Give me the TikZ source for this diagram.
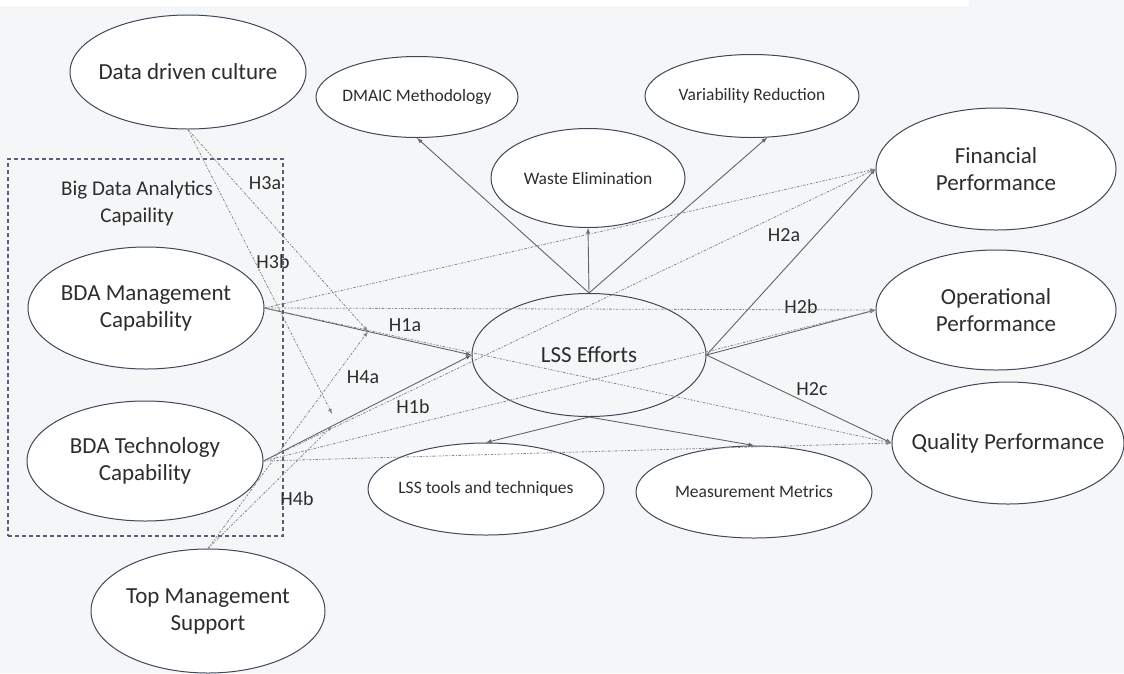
\documentclass[tikz,border=0pt]{standalone}
\usepackage{fontspec}
\setmainfont{Carlito}
\usetikzlibrary{shapes.geometric}
\definecolor{bgc}{RGB}{245,246,247}
\definecolor{rim}{RGB}{62,72,88}
\definecolor{ink}{RGB}{45,45,45}
\definecolor{wire}{RGB}{100,100,100}
\definecolor{dots}{RGB}{135,135,135}
\definecolor{frame}{RGB}{85,95,125}

\begin{document}
\begin{tikzpicture}[x=1pt, y=-1pt, >=latex,
    ell/.style={draw=rim, line width=1pt, ellipse, fill=white, inner xsep=-30pt, inner ysep=0pt, align=center, text=ink},
    bigtxt/.style={font=\fontsize{23}{27}\selectfont},
    smalltxt/.style={font=\fontsize{17.5}{20}\selectfont},
    hyp/.style={text=ink, font=\fontsize{20}{22}\selectfont},
    sol/.style={->, draw=wire, line width=0.9pt},
    hdot/.style={->, draw=dots, line width=0.8pt, dash pattern=on 2.5pt off 1.5pt on 1pt off 1.5pt}]
    \useasboundingbox (0,0) rectangle (1124,673);
    \fill[bgc] (0,0) rectangle (1124,673);
    \fill[white] (0,0) rectangle (969,6);

    \node[draw=frame, line width=1.2pt, dash pattern=on 4pt off 3pt, minimum width=275pt, minimum height=377pt, inner sep=0pt] at (145.5,347.5) (BOX) {};
    \node[text=ink, align=center, font=\fontsize{21}{27}\selectfont] at (137,203) (BDA) {Big Data Analytics\\Capaility};

    \node[ell, bigtxt, minimum width=236pt, minimum height=114pt] at (188,72) (DDC) {Data driven culture};
    \node[ell, smalltxt, minimum width=202pt, minimum height=81pt] at (417,97) (DM) {DMAIC Methodology};
    \node[ell, smalltxt, minimum width=194pt, minimum height=99pt] at (588,178) (WE) {Waste Elimination};
    \node[ell, smalltxt, minimum width=214pt, minimum height=83pt] at (752,96) (VR) {Variability Reduction};
    \node[ell, bigtxt, minimum width=240pt, minimum height=122pt] at (996,169) (FP) {Financial\\Performance};
    \node[ell, bigtxt, minimum width=240pt, minimum height=120pt] at (996,310) (OP) {Operational\\Performance};
    \node[ell, bigtxt, minimum width=232pt, minimum height=122pt] at (1008,443) (QP) {Quality Performance};
    \node[ell, bigtxt, minimum width=234pt, minimum height=123pt, fill=bgc] at (589,355) (LSS) {LSS Efforts};
    \node[ell, smalltxt, minimum width=236pt, minimum height=92pt] at (754,492) (MM) {Measurement Metrics};
    \node[ell, smalltxt, minimum width=236pt, minimum height=92pt] at (486,489) (LT) {LSS tools and techniques};
    \node[ell, bigtxt, minimum width=236pt, minimum height=122pt] at (146,308) (BDAM) {BDA Management\\Capability};
    \node[ell, bigtxt, minimum width=236pt, minimum height=120pt] at (145,461) (BDAT) {BDA Technology\\Capability};
    \node[ell, bigtxt, minimum width=234pt, minimum height=124pt] at (208,611) (TMS) {Top Management\\Support};

    \node[hyp] at (405,325) (H1a) {H1a};
    \node[hyp] at (413,407) (H1b) {H1b};
    \node[hyp] at (784,235) (H2a) {H2a};
    \node[hyp] at (801,307) (H2b) {H2b};
    \node[hyp] at (812,389) (H2c) {H2c};
    \node[hyp] at (265,183) (H3a) {H3a};
    \node[hyp] at (273,262) (H3b) {H3b};
    \node[hyp] at (363,377) (H4a) {H4a};
    \node[hyp] at (297,499) (H4b) {H4b};

    \path (BDAM.east) -- (LSS.west) coordinate[pos=0.5] (m1);
    \path (BDAT.east) -- (LSS.west) coordinate[pos=0.33] (m2) coordinate[pos=0.33, yshift=12pt] (m3);

    \draw[sol] (LSS.north) -- (DM.south);
    \draw[sol] (LSS.north) -- (WE.south);
    \draw[sol] (LSS.north) -- (VR.-70);
    \draw[sol] (LSS.east) -- (FP.west);
    \draw[sol] (LSS.east) -- (OP.west);
    \draw[sol] (LSS.east) -- (QP.west);
    \draw[sol] (LSS.south) -- (LT.north);
    \draw[sol] (LSS.south) -- (MM.north);
    \draw[sol] (BDAM.east) -- (LSS.west);
    \draw[sol] (BDAT.east) -- (LSS.west);

    \draw[hdot] (DDC.south) -- (m1);
    \draw[hdot] (DDC.south) -- (m3);
    \draw[hdot] (TMS.north) -- (m1);
    \draw[hdot] (TMS.north) -- (m2);
    \draw[hdot] (BDAM.east) -- (FP.west);
    \draw[hdot] (BDAM.east) -- (OP.west);
    \draw[hdot] (BDAM.east) -- (QP.west);
    \draw[hdot] (BDAT.east) -- (FP.west);
    \draw[hdot] (BDAT.east) -- (OP.west);
    \draw[hdot] (BDAT.east) -- (QP.west);
\end{tikzpicture}
\end{document}
